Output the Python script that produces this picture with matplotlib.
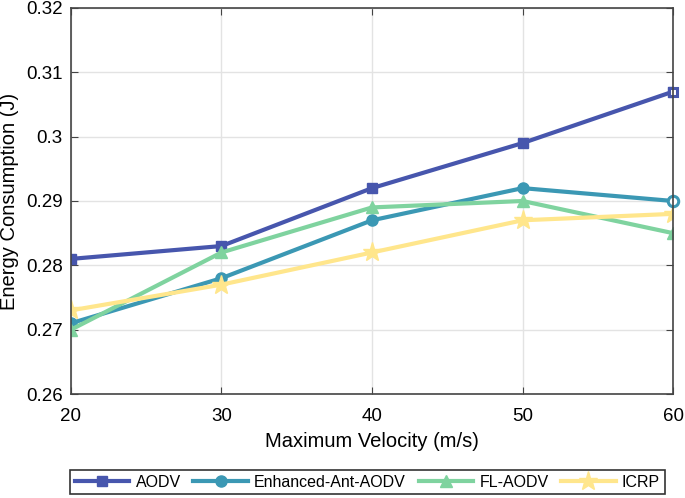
import matplotlib.pyplot as plt
import numpy as np

plt.rcParams['font.family'] = ['Liberation Sans', 'DejaVu Sans']

velocity = [20, 30, 40, 50, 60]
aodv = [0.281, 0.283, 0.292, 0.299, 0.307]
enhanced = [0.271, 0.278, 0.287, 0.292, 0.290]
fl_aodv = [0.270, 0.282, 0.289, 0.290, 0.285]
icrp = [0.273, 0.277, 0.282, 0.287, 0.288]

fig = plt.figure(figsize=(6.85, 4.98), dpi=100)
ax = fig.add_axes([0.1036, 0.2088, 0.879, 0.7752])

c_aodv, c_enh, c_fl, c_icrp = "#4756ad", "#3b98b4", "#7fd39f", "#ffe68c"
ax.plot(velocity, aodv, color=c_aodv, lw=3, marker="s", ms=6.5, label="AODV")
ax.plot(velocity, enhanced, color=c_enh, lw=3, marker="o", ms=8, label="Enhanced-Ant-AODV")
ax.plot(velocity, fl_aodv, color=c_fl, lw=3, marker="^", ms=9, label="FL-AODV")
ax.plot(velocity, icrp, color=c_icrp, lw=3, marker="*", ms=14, label="ICRP")
# last square / circle look hollow in the original
ax.plot(velocity[-1], aodv[-1], ls="none", marker="s", ms=6, mfc="white", mec=c_aodv, mew=2.2, clip_on=False)
ax.plot(velocity[-1], enhanced[-1], ls="none", marker="o", ms=7.5, mfc="white", mec=c_enh, mew=2.2, clip_on=False)

ax.set_xlim(20, 60)
ax.set_ylim(0.26, 0.32)
ax.set_xticks([20, 30, 40, 50, 60])
ax.set_yticks([0.26, 0.27, 0.28, 0.29, 0.30, 0.31, 0.32])
ax.set_yticklabels(["0.26", "0.27", "0.28", "0.29", "0.3", "0.31", "0.32"])
ax.tick_params(direction="in", top=True, right=True, labelsize=13.5, length=5, color="#444444")
ax.tick_params(axis="x", pad=10)
ax.tick_params(axis="y", pad=6)
ax.grid(True, color="#e3e3e3", lw=1)
ax.set_axisbelow(True)
for s in ax.spines.values():
    s.set_color("#444444")
    s.set_linewidth(1.2)

ax.set_xlabel("Maximum Velocity (m/s)", fontsize=14.5, labelpad=5)
ax.set_ylabel("Energy Consumption (J)", fontsize=14.5, labelpad=5)

leg = fig.legend(loc="center", bbox_to_anchor=(0.5365, 0.032), ncol=4, fontsize=11.5,
                 frameon=True, fancybox=False, edgecolor="black", handlelength=3.4,
                 columnspacing=0.8, borderpad=0.3, handletextpad=0.4, borderaxespad=0)
leg.get_frame().set_linewidth(1.2)

plt.savefig("out.png", dpi=100)
